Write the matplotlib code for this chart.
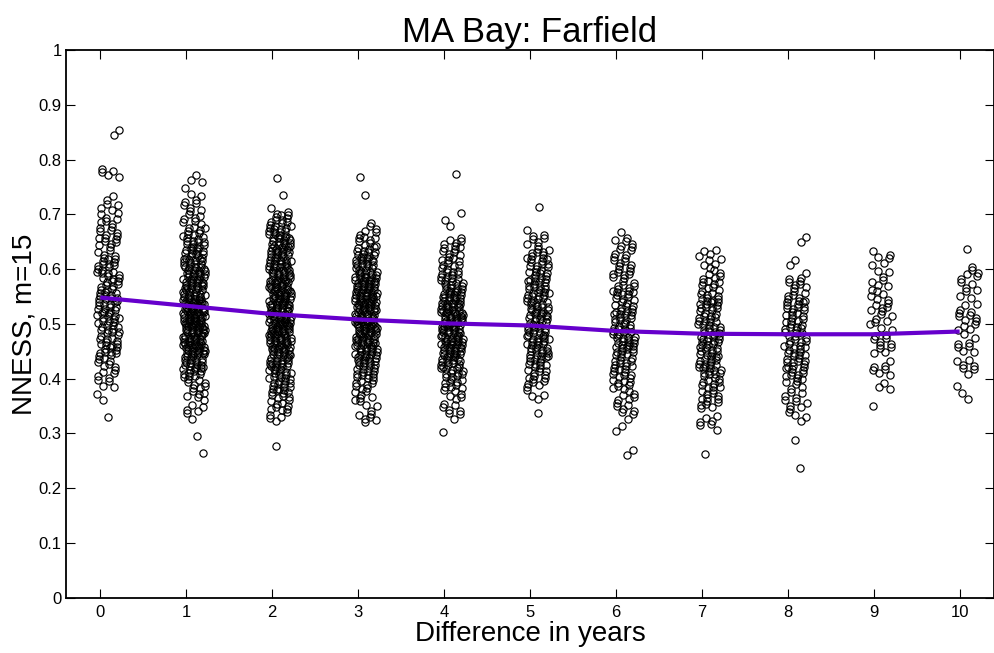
import numpy as np
import matplotlib
matplotlib.use("Agg")
import matplotlib.pyplot as plt
from matplotlib.ticker import FormatStrFormatter

plt.rcParams['font.family'] = ['Liberation Sans', 'DejaVu Sans']

# Year differences (x categories)
years = [0, 1, 2, 3, 4, 5, 6, 7, 8, 9, 10]

# NNESS histogram per year difference: bins of width 0.02 starting at 0.22
bin_start = 0.22
bin_width = 0.02
#            0.23 0.25 0.27 0.29 0.31 0.33 0.35 0.37 0.39 0.41 0.43 0.45 0.47 0.49 0.51 0.53 0.55 0.57 0.59 0.61 0.63 0.65 0.67 0.69 0.71 0.73 0.75 0.77 0.79 0.81 0.83 0.85
counts_0 = [0, 0, 0, 0, 0, 1, 0, 2, 4, 5, 7, 10, 10, 11, 12, 12, 11, 10, 10, 10, 5, 8, 7, 6, 5, 2, 0, 4, 1, 0, 0, 2]
counts_1 = [0, 0, 1, 1, 0, 2, 4, 6, 8, 12, 16, 20, 24, 26, 26, 24, 22, 20, 18, 16, 14, 12, 9, 7, 5, 4, 2, 2, 0, 0, 0, 0]
counts_2 = [0, 0, 1, 0, 0, 5, 8, 10, 12, 14, 17, 20, 22, 23, 23, 23, 22, 21, 20, 19, 18, 16, 14, 10, 3, 1, 0, 1, 0, 0, 0, 0]
counts_3 = [0, 0, 0, 0, 0, 6, 4, 6, 8, 12, 16, 18, 20, 22, 23, 23, 22, 21, 19, 16, 12, 8, 5, 1, 0, 1, 0, 1, 0, 0, 0, 0]
counts_4 = [0, 0, 0, 0, 1, 3, 5, 6, 9, 12, 15, 18, 20, 22, 22, 20, 17, 14, 12, 9, 8, 6, 1, 1, 1, 0, 0, 1, 0, 0, 0, 0]
counts_5 = [0, 0, 0, 0, 0, 1, 0, 4, 6, 9, 11, 13, 14, 14, 14, 14, 13, 12, 11, 10, 9, 6, 2, 0, 1, 0, 0, 0, 0, 0, 0, 0]
counts_6 = [0, 0, 2, 0, 2, 3, 5, 6, 8, 9, 11, 12, 13, 12, 11, 10, 10, 9, 8, 7, 6, 5, 1, 0, 0, 0, 0, 0, 0, 0, 0, 0]
counts_7 = [0, 0, 1, 0, 3, 4, 6, 8, 9, 11, 12, 12, 13, 12, 12, 11, 10, 8, 6, 5, 4, 0, 0, 0, 0, 0, 0, 0, 0, 0, 0, 0]
counts_8 = [1, 0, 0, 1, 0, 4, 5, 5, 6, 9, 10, 10, 10, 10, 9, 10, 8, 6, 3, 2, 0, 2, 0, 0, 0, 0, 0, 0, 0, 0, 0, 0]
counts_9 = [0, 0, 0, 0, 0, 0, 1, 0, 3, 4, 3, 4, 6, 3, 6, 6, 5, 5, 3, 3, 3, 0, 0, 0, 0, 0, 0, 0, 0, 0, 0, 0]
counts_10 = [0, 0, 0, 0, 0, 0, 0, 2, 1, 3, 4, 4, 3, 5, 6, 4, 3, 4, 5, 1, 1, 0, 0, 0, 0, 0, 0, 0, 0, 0, 0, 0]

all_counts = [counts_0, counts_1, counts_2, counts_3, counts_4, counts_5,
              counts_6, counts_7, counts_8, counts_9, counts_10]

# Smoothed trend of NNESS against year difference
trend = [0.548, 0.533, 0.518, 0.508, 0.501, 0.497, 0.487, 0.482, 0.481, 0.481, 0.486]

ytick_vals = [0, 0.1, 0.2, 0.3, 0.4, 0.5, 0.6, 0.7, 0.8, 0.9, 1.0]

fig = plt.figure(figsize=(9.95, 6.53), dpi=100)
ax = fig.add_axes([0.0663, 0.0847, 0.9327, 0.8387])

# low-discrepancy (R2) offsets spread each point inside its bin and across the jitter band
g = 1.32471795724474602596
a1, a2 = 1.0 / g, 1.0 / g ** 2
jit_lo, jit_hi = -0.04, 0.22
for yr, counts in zip(years, all_counts):
    xs, ys = [], []
    k = 0
    for b, n in enumerate(counts):
        lo = bin_start + b * bin_width
        for j in range(n):
            idx = k + 31 * yr
            u = (0.5 + idx * a1) % 1.0
            v = (0.5 + idx * a2) % 1.0
            ys.append(lo + v * bin_width)
            xs.append(yr + jit_lo + (jit_hi - jit_lo) * u)
            k += 1
    ax.plot(xs, ys, linestyle='none', marker='o', markersize=5.2,
            markerfacecolor='none', markeredgecolor='black',
            markeredgewidth=0.85, zorder=2)

ax.plot(years, trend, color='#6600cc', linewidth=3.0, solid_capstyle='butt', zorder=3)

ax.set_xlim(-0.4, 10.4)
ax.set_ylim(0, 1)
ax.set_xticks(years)
ax.set_yticks(ytick_vals)
ax.yaxis.set_major_formatter(FormatStrFormatter('%g'))
ax.tick_params(direction='in', length=6.5, width=0.8, labelsize=12,
               top=True, right=True, color='black')
ax.tick_params(axis='x', pad=5)
ax.tick_params(axis='y', pad=3)
for s in ax.spines.values():
    s.set_linewidth(1.3)

ax.set_title('MA Bay: Farfield', fontsize=25, pad=6)
ax.set_xlabel('Difference in years', fontsize=20, labelpad=1)
ax.set_ylabel('NNESS, m=15', fontsize=20, labelpad=1)

fig.savefig('out.png', dpi=100)
